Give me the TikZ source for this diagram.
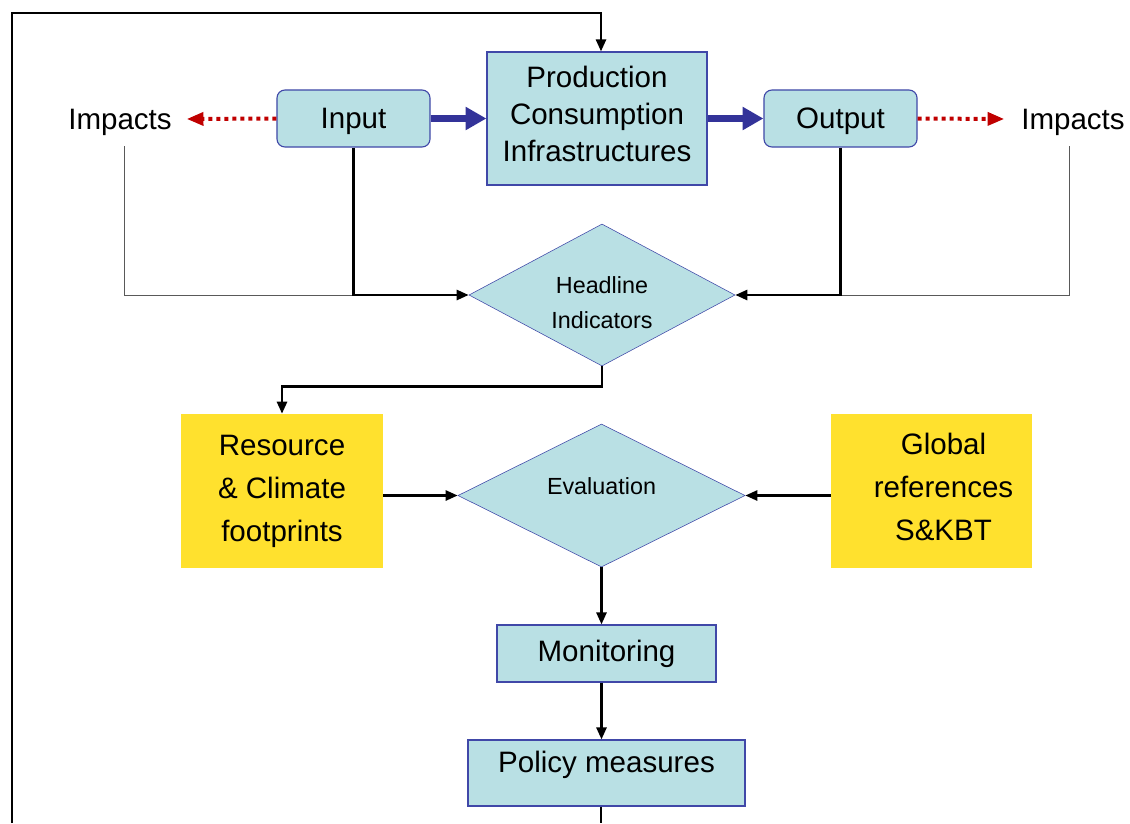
\documentclass[tikz,border=0pt]{standalone}
\usepackage{fontspec}
\setmainfont{Liberation Sans}
\usetikzlibrary{positioning}
\usetikzlibrary{shapes.geometric}
\usetikzlibrary{arrows.meta}

\definecolor{boxblue}{HTML}{B9E0E4}
\definecolor{edgeblue}{HTML}{4048A8}
\definecolor{arrblue}{HTML}{333399}
\definecolor{impred}{HTML}{C00000}
\definecolor{footyellow}{HTML}{FFE12E}

\tikzset{
  bigtext/.style = {font = \fontsize{21}{26.3}\selectfont, align = center},
  onetext/.style = {bigtext, text depth = 0pt},
  smalltext/.style = {font = \fontsize{16.6}{24.9}\selectfont, align = center},
  bluebox/.style = {bigtext, draw = edgeblue, fill = boxblue, thick, inner sep = 0pt},
  roundbox/.style = {bluebox, text depth = 0pt, rounded corners = 0.2cm},
  yellowbox/.style = {bigtext, fill = footyellow, inner sep = 0pt, font = \fontsize{21}{30.6}\selectfont},
  decision/.style = {diamond, draw = edgeblue, fill = boxblue, inner sep = 0pt},
  flowline/.style = {black, line width = 1.8pt, -{Triangle[length = 0.3cm, width = 0.25cm]}},
  plainline/.style = {black, line width = 1.8pt},
  grayline/.style = {black!65, line width = 0.6pt},
  fatarrow/.style = {arrblue, line width = 0.16cm, -{Triangle[length = 0.52cm, width = 0.55cm]}},
  impactarrow/.style = {impred, line width = 0.1cm, dash pattern = on 0.1cm off 0.1cm,
                        -{Triangle[length = 0.42cm, width = 0.32cm]}}
}

\begin{document}
\begin{tikzpicture}[x = 0.025cm, y = -0.025cm]
  \useasboundingbox (0, 0) rectangle (1130, 823);

  % top row
  \node [bluebox, minimum width = 5.5cm, minimum height = 3.325cm,
         label = {[bigtext, yshift = 0.12cm]center:Production\\Consumption\\Infrastructures}]
        (prod) at (597, 118.5) {};
  \node [roundbox, minimum width = 3.825cm, minimum height = 1.425cm] (inp) at (353.5, 118.5) {Input};
  \node [roundbox, minimum width = 3.825cm, minimum height = 1.425cm] (outp) at (840.5, 118.5) {Output};
  \node [onetext] (impL) at (120, 119) {Impacts};
  \node [onetext] (impR) at (1073, 119) {Impacts};

  % decisions
  \node [decision, minimum width = 6.65cm, minimum height = 3.55cm,
         label = {[smalltext, yshift = -0.18cm]center:Headline\\Indicators}]
        (head) at (602, 295) {};
  \node [decision, minimum width = 7.175cm, minimum height = 3.575cm,
         label = {[smalltext, yshift = 0.23cm]center:Evaluation}]
        (eval) at (601.5, 495.5) {};

  % side boxes
  \node [yellowbox, minimum width = 5.05cm, minimum height = 3.85cm] (res) at (282, 491)
        {Resource\\\& Climate\\footprints};
  \node [yellowbox, minimum width = 5.025cm, minimum height = 3.85cm,
         label = {[yellowbox, xshift = 0.3cm, yshift = 0.1cm]center:Global\\references\\S\&KBT}]
        (glob) at (931.5, 491) {};

  % bottom column
  \node [bluebox, minimum width = 5.475cm, minimum height = 1.425cm] (mon) at (606.5, 653.5) {Monitoring};
  \node [bluebox, minimum width = 6.925cm, minimum height = 1.65cm,
         label = {[bigtext, yshift = 0.2cm]center:Policy measures}]
        (pol) at (606.5, 773) {};

  % feedback loop corners
  \coordinate (fbB) at (601, 823);
  \coordinate (fbL) at (12, 823);
  \coordinate (fbT) at (12, 13);
  \coordinate (jl) at (inp.south |- head.west);
  \coordinate (jr) at (outp.south |- head.east);

  % main flow
  \draw [fatarrow] (inp) -- (prod);
  \draw [fatarrow] (prod) -- (outp);
  \draw [impactarrow] (inp.west) -- ([xshift = 0.25cm]impL.east);
  \draw [impactarrow] (outp.east) -- ([xshift = -0.3cm]impR.west);

  % into headline indicators
  \draw [grayline, shorten <= 0.3cm] ([xshift = 0.1cm]impL.south) |- (jl);
  \draw [grayline, shorten <= 0.3cm] ([xshift = -0.1cm]impR.south) |- (jr);
  \draw [flowline] (inp.south) -- (jl) -- (head.west);
  \draw [flowline] (outp.south) -- (jr) -- (head.east);

  % evaluation
  \draw [flowline] (head.south) -- ++(0, 20) -| (res.north);
  \draw [flowline] (res.east |- eval.west) -- (eval.west);
  \draw [flowline] (glob.west |- eval.east) -- (eval.east);
  \draw [flowline] (eval.south) -- (eval.south |- mon.north);
  \draw [flowline] (mon.south -| eval.south) -- (pol.north -| eval.south);

  % back to production
  \draw [plainline] (pol.south -| fbB) -- (fbB);
  \draw [flowline] (fbL) -- (fbT) -| ([xshift = 0.1cm]prod.north);
\end{tikzpicture}
\end{document}
